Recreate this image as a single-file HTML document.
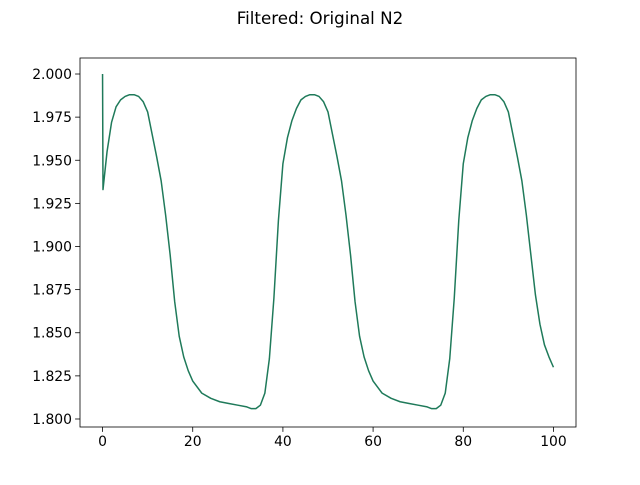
<!DOCTYPE html>
<html><head><meta charset="utf-8"><style>
html,body{margin:0;padding:0;background:#fff;}
svg text{font-family:"DejaVu Sans","Liberation Sans",sans-serif;}
</style></head><body>
<svg id="chart" width="640" height="480" viewBox="0 0 640 480" xmlns="http://www.w3.org/2000/svg">
<rect width="640" height="480" fill="#fff"/>
<text x="320" y="24" text-anchor="middle" font-size="16.7">Filtered: Original N2</text>
<g id="plot"></g>
</svg>
<script>
const xTicks=[0,20,40,60,80,100];
const yTicks=[1.800,1.825,1.850,1.875,1.900,1.925,1.950,1.975,2.000];
const tVals=[0,0.1,1,2,3,4,5,6,7,8,9,10,11,12,13,14,15,16,17,18,19,20,22,24,26,28,30,32,33,34,35,36,37,38,39,40,41,42,43,44,45,46,47,48,49,50,51,52,53,54,55,56,57,58,59,60,62,64,66,68,70,72,73,74,75,76,77,78,79,80,81,82,83,84,85,86,87,88,89,90,91,92,93,94,95,96,97,98,99,100];
const n2Vals=[2.000,1.933,1.955,1.972,1.981,1.985,1.987,1.988,1.988,1.987,1.984,1.978,1.965,1.952,1.938,1.918,1.895,1.868,1.848,1.836,1.828,1.822,1.815,1.812,1.810,1.809,1.808,1.807,1.806,1.806,1.808,1.815,1.835,1.870,1.915,1.948,1.963,1.973,1.980,1.985,1.987,1.988,1.988,1.987,1.984,1.978,1.965,1.952,1.938,1.918,1.895,1.868,1.848,1.836,1.828,1.822,1.815,1.812,1.810,1.809,1.808,1.807,1.806,1.806,1.808,1.815,1.835,1.870,1.915,1.948,1.963,1.973,1.980,1.985,1.987,1.988,1.988,1.987,1.984,1.978,1.965,1.952,1.938,1.918,1.895,1.872,1.855,1.843,1.836,1.830];
const L=80,R=576,T=58,B=427,xMin=-5,xMax=105,yMin=1.79536,yMax=2.00928;
const sx=v=>L+(v-xMin)/(xMax-xMin)*(R-L);
const sy=v=>B-(v-yMin)/(yMax-yMin)*(B-T);
const NS="http://www.w3.org/2000/svg";
const g=document.getElementById('plot');
function mk(tag,at){const e=document.createElementNS(NS,tag);for(const k in at)e.setAttribute(k,at[k]);g.appendChild(e);return e;}
xTicks.forEach(v=>{
 const l=mk('line',{x1:sx(v),x2:sx(v),y1:B,y2:B+4.9,stroke:'#000','stroke-width':0.8});
 
 
 const t=mk('text',{x:sx(v),y:B+19,'text-anchor':'middle','font-size':13.9});
 t.textContent=v;
 
 
});
yTicks.forEach(v=>{
 const l=mk('line',{x1:L-4.9,x2:L,y1:sy(v),y2:sy(v),stroke:'#000','stroke-width':0.8});
 
 
 const t=mk('text',{x:L-8,y:sy(v)+5,'text-anchor':'end','font-size':13.9});
 t.textContent=v.toFixed(3);
 
 
});
const d=tVals.map((t,i)=>(i?'L':'M')+sx(t).toFixed(2)+' '+sy(n2Vals[i]).toFixed(2)).join(' ');
const p=mk('path',{d:d,fill:'none',stroke:'#1f7a5a','stroke-width':1.5,'stroke-linejoin':'round'});


const f=mk('rect',{x:L,y:T,width:R-L,height:B-T,fill:'none',stroke:'#000','stroke-width':0.8});


</script>
</body></html>
